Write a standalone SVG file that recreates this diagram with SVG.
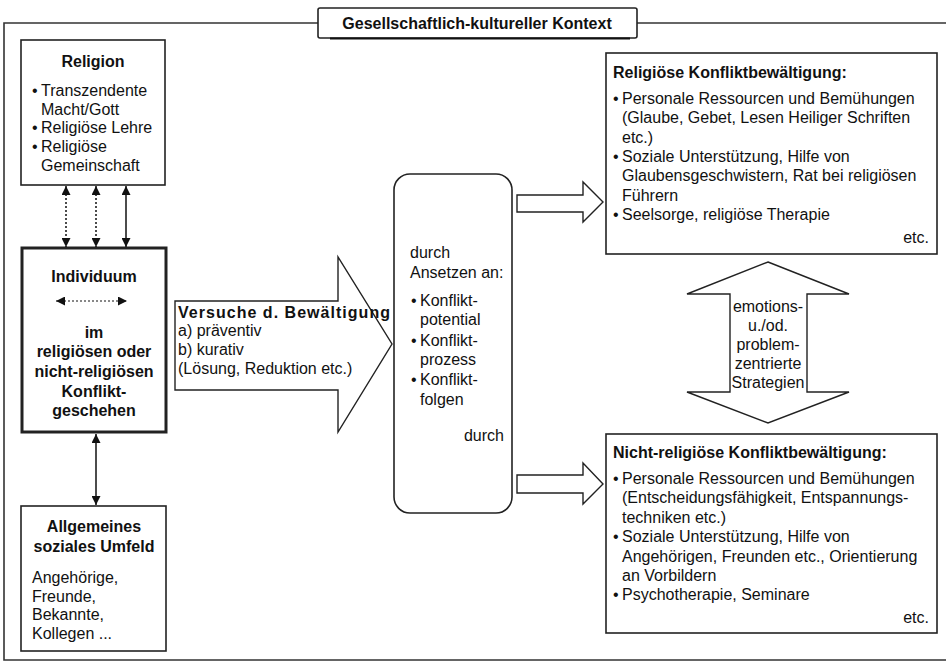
<svg xmlns="http://www.w3.org/2000/svg" width="951" height="665" viewBox="0 0 951 665">
<defs>
<marker id="ah" viewBox="0 0 10 10" refX="10" refY="5" markerWidth="9" markerHeight="9" markerUnits="userSpaceOnUse" orient="auto-start-reverse">
<path d="M0,0 L10,5 L0,10 Z" fill="#111"/>
</marker>
</defs>
<style>
text{font-family:"Liberation Sans",Arial,sans-serif;font-size:16px;fill:#111}
.b{font-weight:bold}
.c{text-anchor:middle}
.r{text-anchor:end}
.box{fill:#fff;stroke:#222;stroke-width:1.6}
.frame{fill:none;stroke:#333;stroke-width:1.6}
.shape{fill:#fff;stroke:#222;stroke-width:1.4;stroke-linejoin:miter}
.conn{stroke:#111;stroke-width:1.5;fill:none}
.dot{stroke-dasharray:2 2}
</style>
<rect width="951" height="665" fill="#fff"/>
<g id="frame">
<path class="frame" d="M318,23 H4 V660 H946"/>
<path class="frame" d="M637,23 H946"/>
</g>
<g id="context">
<rect class="box" x="318" y="8" width="319" height="30" rx="2"/>
<line x1="330" y1="38.5" x2="630" y2="38.5" stroke="#111" stroke-width="2"/>
<text class="b c" x="477" y="29">Gesellschaftlich-kultureller Kontext</text>
</g>
<g id="religion">
<rect class="box" x="21" y="40" width="144" height="145"/>
<text class="b c" x="93" y="67">Religion</text>
<text x="32" y="96">•</text><text x="41" y="96">Transzendente</text>
<text x="41" y="115">Macht/Gott</text>
<text x="32" y="133">•</text><text x="41" y="133">Religiöse Lehre</text>
<text x="32" y="152">•</text><text x="41" y="152">Religiöse</text>
<text x="41" y="171">Gemeinschaft</text>
</g>
<g id="individuum">
<rect class="box" x="22" y="248" width="144" height="184" style="stroke-width:3"/>
<text class="b c" x="94" y="282">Individuum</text>
<line class="conn dot" x1="56" y1="301" x2="127" y2="301" style="stroke-width:1" marker-start="url(#ah)" marker-end="url(#ah)"/>
<text class="b c" x="94" y="338">im</text>
<text class="b c" x="94" y="357">religiösen oder</text>
<text class="b c" x="94" y="377">nicht-religiösen</text>
<text class="b c" x="94" y="397">Konflikt-</text>
<text class="b c" x="94" y="416">geschehen</text>
</g>
<g id="umfeld">
<rect class="box" x="21" y="506" width="145" height="145"/>
<text class="b c" x="94" y="532">Allgemeines</text>
<text class="b c" x="94" y="552">soziales Umfeld</text>
<text x="32" y="583">Angehörige,</text>
<text x="32" y="602">Freunde,</text>
<text x="32" y="620">Bekannte,</text>
<text x="32" y="639">Kollegen ...</text>
</g>
<g id="versuche">
<polygon class="shape" points="175,301 338,301 338,257 392,344 338,432 338,390 175,390"/>
<text class="b" x="178" y="318" textLength="212" lengthAdjust="spacing">Versuche d. Bewältigung</text>
<text x="178" y="336">a) präventiv</text>
<text x="178" y="355">b) kurativ</text>
<text x="178" y="374">(Lösung, Reduktion etc.)</text>
</g>
<g id="ansetzen">
<rect class="box" x="394" y="174" width="118" height="339" rx="16"/>
<text x="410" y="258">durch</text>
<text x="410" y="278">Ansetzen an:</text>
<text x="411" y="306">•</text><text x="420" y="306">Konflikt-</text>
<text x="420" y="325">potential</text>
<text x="411" y="346">•</text><text x="420" y="346">Konflikt-</text>
<text x="420" y="365">prozess</text>
<text x="411" y="385">•</text><text x="420" y="385">Konflikt-</text>
<text x="420" y="405">folgen</text>
<text class="r" x="504" y="441">durch</text>
</g>
<g id="religioes">
<rect class="box" x="606" y="53" width="331" height="201"/>
<text class="b" x="613" y="78">Religiöse Konfliktbewältigung:</text>
<text x="613" y="104">•</text><text x="622" y="104">Personale Ressourcen und Bemühungen</text>
<text x="622" y="123">(Glaube, Gebet, Lesen Heiliger Schriften</text>
<text x="622" y="143">etc.)</text>
<text x="613" y="162">•</text><text x="622" y="162">Soziale Unterstützung, Hilfe von</text>
<text x="622" y="181">Glaubensgeschwistern, Rat bei religiösen</text>
<text x="622" y="201">Führern</text>
<text x="613" y="220">•</text><text x="622" y="220">Seelsorge, religiöse Therapie</text>
<text class="r" x="929" y="243">etc.</text>
</g>
<g id="strategien">
<polygon class="shape" points="768,262 849,294 807,294 807,392 849,392 768,423 687,392 730,392 730,294 687,294"/>
<text class="c" x="768" y="312">emotions-</text>
<text class="c" x="768" y="331">u./od.</text>
<text class="c" x="768" y="350">problem-</text>
<text class="c" x="768" y="369">zentrierte</text>
<text class="c" x="768" y="388">Strategien</text>
</g>
<g id="nichtreligioes">
<rect class="box" x="606" y="434" width="331" height="199"/>
<text class="b" x="613" y="458">Nicht-religiöse Konfliktbewältigung:</text>
<text x="613" y="484">•</text><text x="622" y="484">Personale Ressourcen und Bemühungen</text>
<text x="622" y="503">(Entscheidungsfähigkeit, Entspannungs-</text>
<text x="622" y="523">techniken etc.)</text>
<text x="613" y="542">•</text><text x="622" y="542">Soziale Unterstützung, Hilfe von</text>
<text x="622" y="562">Angehörigen, Freunden etc., Orientierung</text>
<text x="622" y="581">an Vorbildern</text>
<text x="613" y="600">•</text><text x="622" y="600">Psychotherapie, Seminare</text>
<text class="r" x="929" y="623">etc.</text>
</g>
<g id="connectors">
<line class="conn dot" x1="66" y1="186" x2="66" y2="247" marker-start="url(#ah)" marker-end="url(#ah)"/>
<line class="conn dot" x1="96" y1="186" x2="96" y2="247" marker-start="url(#ah)" marker-end="url(#ah)"/>
<line class="conn" x1="126" y1="186" x2="126" y2="247" marker-start="url(#ah)" marker-end="url(#ah)"/>
<line class="conn" x1="96" y1="434" x2="96" y2="505" marker-start="url(#ah)" marker-end="url(#ah)"/>
<polygon class="shape" points="517,195 583,195 583,182 603,202 583,222 583,212 517,212"/>
<polygon class="shape" points="517,475 583,475 583,463 603,484 583,504 583,493 517,493"/>
</g>
</svg>
